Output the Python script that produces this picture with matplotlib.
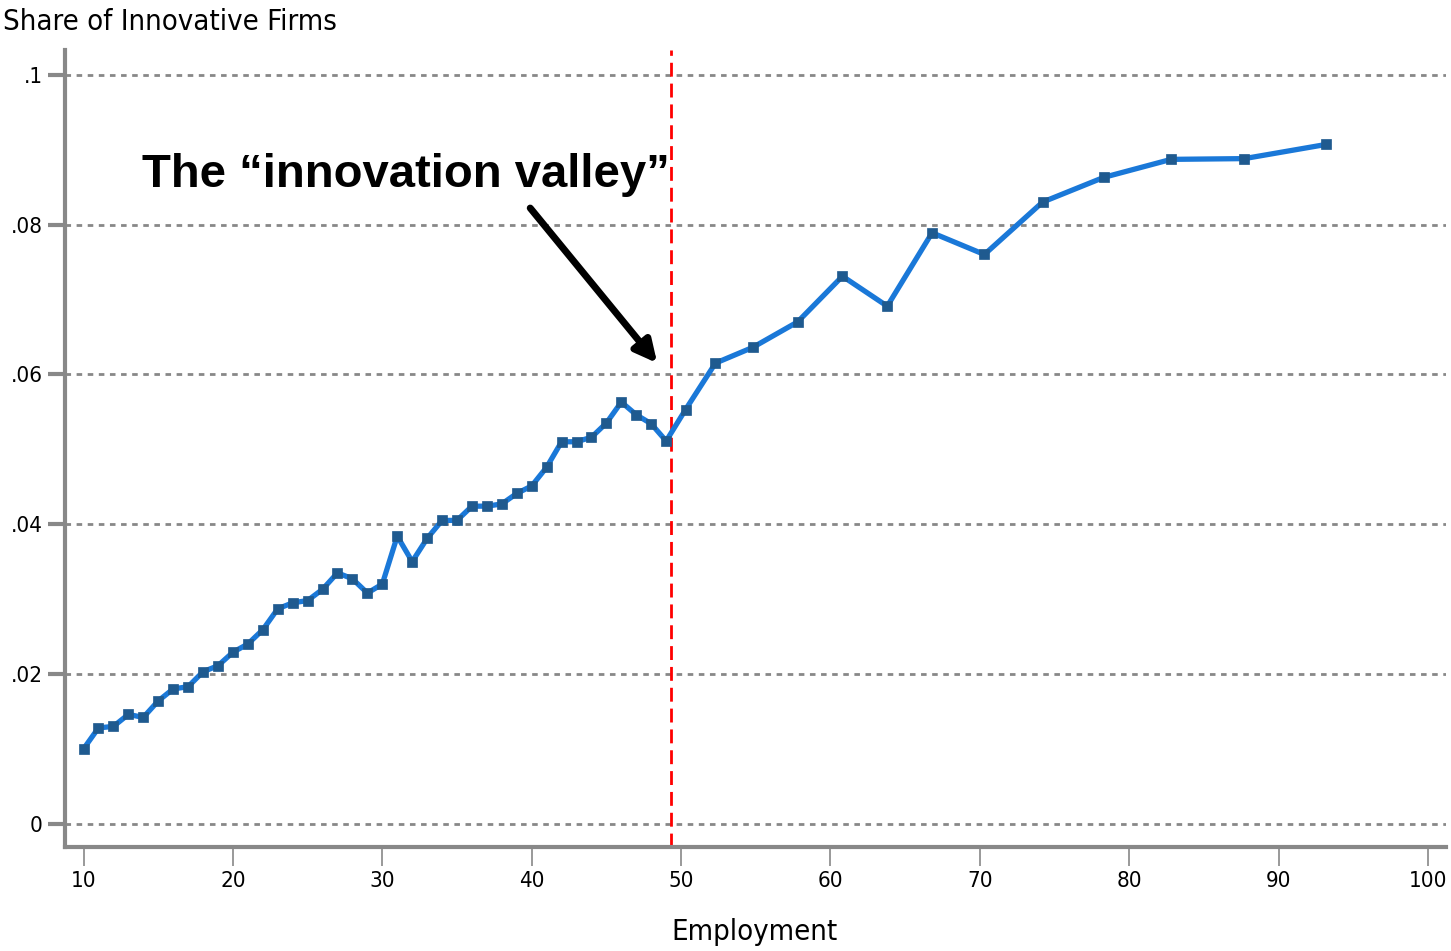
import matplotlib
matplotlib.use("Agg")
import matplotlib.pyplot as plt

employment = [10, 11, 12, 13, 14, 15, 16, 17, 18, 19,
              20, 21, 22, 23, 24, 25, 26, 27, 28, 29,
              30, 31, 32, 33, 34, 35, 36, 37, 38, 39,
              40, 41, 42, 43, 44, 45, 46, 47, 48, 49,
              50.3, 52.3, 54.8, 57.8, 60.8, 63.8, 66.8, 70.3, 74.2, 78.3,
              82.8, 87.7, 93.2]
share = [0.0100, 0.0128, 0.0130, 0.0146, 0.0142, 0.0164, 0.0180, 0.0183, 0.0203, 0.0211,
         0.0229, 0.0240, 0.0259, 0.0287, 0.0295, 0.0298, 0.0313, 0.0335, 0.0327, 0.0308,
         0.0320, 0.0384, 0.0350, 0.0381, 0.0405, 0.0405, 0.0424, 0.0424, 0.0427, 0.0441,
         0.0451, 0.0476, 0.0510, 0.0510, 0.0516, 0.0535, 0.0563, 0.0546, 0.0534, 0.0511,
         0.0553, 0.0615, 0.0636, 0.0670, 0.0731, 0.0691, 0.0789, 0.0760, 0.0830, 0.0863,
         0.0887, 0.0888, 0.0907]
xticks = [10, 20, 30, 40, 50, 60, 70, 80, 90, 100]
xtick_labels = ["10", "20", "30", "40", "50", "60", "70", "80", "90", "100"]
yticks = [0, 0.02, 0.04, 0.06, 0.08, 0.1]
ytick_labels = ["0", ".02", ".04", ".06", ".08", ".1"]
valley_x = 49.3
annotation = "The \u201cinnovation valley\u201d"

NARROW = dict(family="DejaVu Sans", stretch="condensed")
GRAY = "#888888"

fig = plt.figure(figsize=(14.51, 9.51), dpi=100)
ax = fig.add_axes([65 / 1451, 1 - 847 / 951, (1446 - 65) / 1451, (847 - 50) / 951])

ax.set_xlim(8.76, 101.2)
ax.set_ylim(-0.0031, 0.1033)

for yv in yticks:
    ax.axhline(yv, color=GRAY, lw=2, ls=(0, (2, 2)), zorder=1)

ax.axvline(valley_x, color="#ff0000", lw=2, ls=(0, (5, 2.5)), zorder=2)

ax.plot(employment, share, color="#1a78d8", lw=3.8, zorder=3,
        marker="s", markersize=7, markerfacecolor="#1f5a8f",
        markeredgecolor="#1f5a8f", markeredgewidth=0.5)

ax.set_xticks(xticks)
ax.set_xticklabels(xtick_labels, fontsize=16, **NARROW)
ax.set_yticks(yticks)
ax.set_yticklabels(ytick_labels, fontsize=16, **NARROW)

for s in ["top", "right"]:
    ax.spines[s].set_visible(False)
for s in ["left", "bottom"]:
    ax.spines[s].set_color(GRAY)
    ax.spines[s].set_linewidth(3)
ax.tick_params(axis="y", length=12, width=3, color=GRAY, pad=4)
ax.tick_params(axis="x", length=14, width=1.2, color=GRAY, pad=3)

ax.text(13.9, 0.0850, annotation, fontsize=34, fontweight="bold",
        family=["Liberation Sans", "DejaVu Sans"], ha="left", va="baseline", zorder=5)
ax.annotate("", xy=(48.4, 0.0615), xytext=(39.9, 0.0822),
            arrowprops=dict(arrowstyle="-|>,head_length=1.3,head_width=0.65",
                            color="black", lw=5, shrinkA=0, shrinkB=0), zorder=5)

fig.text(3 / 1451, 1 - 8 / 951, "Share of Innovative Firms", fontsize=21,
         ha="left", va="top", **NARROW)
fig.text(754 / 1451, 1 - 940 / 951, "Employment", fontsize=21,
         ha="center", va="baseline", **NARROW)

fig.savefig("out.png", dpi=100)
